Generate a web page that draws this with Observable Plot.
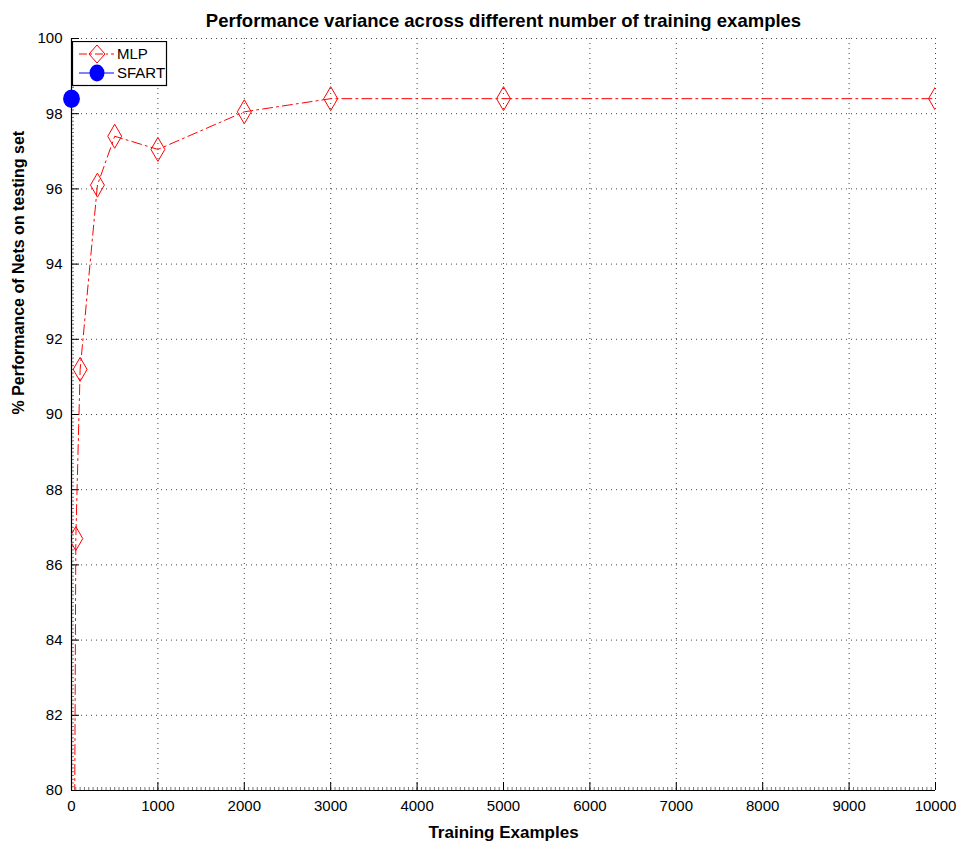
<!DOCTYPE html>
<html><head><meta charset="utf-8">
<script src="https://cdn.jsdelivr.net/npm/d3@7"></script>
<script src="https://cdn.jsdelivr.net/npm/@observablehq/plot@0.6"></script>
<style>
body{margin:0;background:#fff;font-family:"Liberation Sans",Arial,sans-serif}
#wrap{position:relative;width:958px;height:842px;overflow:hidden}
#legend{position:absolute;left:72px;top:41px}
</style>
</head><body><div id="wrap"></div>
<script>
const trainingExamples = [10, 50, 100, 300, 500, 1000, 2000, 3000, 5000, 10000];
const mlpPerformance = [65, 86.7, 91.2, 96.1, 97.4, 97.05, 98.05, 98.4, 98.4, 98.4];
const sfartExamples = [0];
const sfartPerformance = [98.4];
const xTicks = d3.range(0, 10001, 1000);
const yTicks = d3.range(80, 100.01, 2);
const xMinor = d3.range(0, 10001, 50);
const yMinor = d3.range(80, 100.001, 0.1);
const seriesNames = ["MLP", "SFART"];
const titleText = "Performance variance across different number of training examples";
const xLabel = "Training Examples";
const yLabel = "% Performance of Nets on testing set";

const W = 958, H = 842, mL = 71, mR = 23, mT = 38, mB = 52;
const innerW = W - mL - mR, innerH = H - mT - mB;

const mlp = trainingExamples.map((x, i) => ({x, y: mlpPerformance[i]}));
const sfart = sfartExamples.map((x, i) => ({x, y: sfartPerformance[i]}));

const tallDiamond = {
  draw(ctx, size) {
    const r = Math.sqrt(size / Math.PI);
    const w = r * 0.58;
    ctx.moveTo(0, -r); ctx.lineTo(w, 0); ctx.lineTo(0, r); ctx.lineTo(-w, 0); ctx.closePath();
  }
};
const tallCircle = {
  draw(ctx, size) {
    const r = Math.sqrt(size / Math.PI);
    const a = r * 0.9, b = r, k = 0.5523;
    ctx.moveTo(a, 0);
    ctx.bezierCurveTo(a, k * b, k * a, b, 0, b);
    ctx.bezierCurveTo(-k * a, b, -a, k * b, -a, 0);
    ctx.bezierCurveTo(-a, -k * b, -k * a, -b, 0, -b);
    ctx.bezierCurveTo(k * a, -b, a, -k * b, a, 0);
    ctx.closePath();
  }
};

const chart = Plot.plot({
  width: W, height: H,
  marginLeft: mL, marginRight: mR, marginTop: mT, marginBottom: mB,
  style: {fontFamily: '"Liberation Sans", Arial, sans-serif', fontSize: "15px", color: "#000", background: "#fff", overflow: "visible"},
  x: {domain: [0, 10000]},
  y: {domain: [80, 100]},
  marks: [
    Plot.ruleX(xTicks.filter(d => d > 0), {stroke: "#444", strokeDasharray: "1,4"}),
    Plot.ruleY(yTicks.filter(d => d > 80), {stroke: "#444", strokeDasharray: "1,4"}),
    Plot.ruleX(xMinor, {stroke: "#777", insetTop: innerH - 3}),
    Plot.ruleY(yMinor, {stroke: "#777", insetRight: innerW - 3}),
    Plot.ruleX(xTicks, {stroke: "#000", insetTop: innerH - 8}),
    Plot.ruleY(yTicks, {stroke: "#000", insetRight: innerW - 8}),
    Plot.ruleX([0], {stroke: "#000", strokeWidth: 1.2}),
    Plot.ruleY([80], {stroke: "#000", strokeWidth: 1.2}),
    Plot.axisX(xTicks, {tickSize: 0, tickPadding: 10, fontSize: 15, tickFormat: d => String(d), label: null}),
    Plot.axisY(yTicks, {tickSize: 0, tickPadding: 9, fontSize: 15, tickFormat: d => String(d), label: null}),
    Plot.line(mlp, {x: "x", y: "y", stroke: "red", strokeWidth: 1, strokeDasharray: "10,4,2,4", clip: true}),
    Plot.dot(mlp, {x: "x", y: "y", symbol: tallDiamond, r: 12, stroke: "red", strokeWidth: 1, fill: "none", clip: true}),
    Plot.dot(sfart, {x: "x", y: "y", symbol: tallCircle, r: 8.5, fill: "blue", stroke: "blue"}),
    Plot.text([titleText], {text: d => d, frameAnchor: "top", dy: -25, fontWeight: "bold", fontSize: 18.5, fill: "#000"}),
    Plot.text([xLabel], {text: d => d, frameAnchor: "bottom", dy: 47, fontWeight: "bold", fontSize: 17, fill: "#000"}),
    Plot.text([yLabel], {text: d => d, frameAnchor: "left", dx: -53, rotate: -90, fontWeight: "bold", fontSize: 16, fill: "#000"})
  ]
});
document.getElementById("wrap").appendChild(chart);

// Legend
const lg = d3.select("#wrap").append("svg").attr("id", "legend")
  .attr("width", 96).attr("height", 46);
lg.append("rect").attr("x", 0.5).attr("y", 0.5).attr("width", 94).attr("height", 44)
  .attr("fill", "#fff").attr("stroke", "#000").attr("stroke-width", 1.2);
const rows = [
  {name: seriesNames[0], y: 13, color: "red", dash: "8,3,2,3"},
  {name: seriesNames[1], y: 32, color: "blue", dash: null}
];
rows.forEach((r, i) => {
  lg.append("line").attr("x1", 7).attr("x2", 42).attr("y1", r.y).attr("y2", r.y)
    .attr("stroke", r.color).attr("stroke-dasharray", r.dash);
  if (i === 0) {
    lg.append("path").attr("d", `M25,${r.y-9}L33,${r.y}L25,${r.y+9}L17,${r.y}Z`)
      .attr("fill", "none").attr("stroke", "red");
  } else {
    lg.append("ellipse").attr("cx", 25).attr("cy", r.y).attr("rx", 7.5).attr("ry", 8.5).attr("fill", "blue");
  }
  lg.append("text").attr("x", 45).attr("y", r.y).attr("dy", "0.35em")
    .attr("font-size", 15).attr("font-family", '"Liberation Sans", Arial, sans-serif')
    .text(r.name);
});
</script>
</body></html>
